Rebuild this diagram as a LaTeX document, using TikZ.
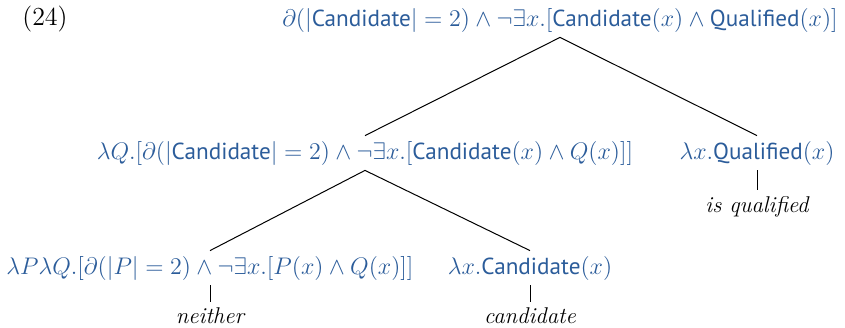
\documentclass[tikz,border=0pt]{standalone}
\usepackage{fontspec}
\usepackage{amsmath}
\newfontfamily\sansf{PT Sans}
\definecolor{semblue}{RGB}{43,92,154}
\newcommand{\sn}[1]{\text{\sansf #1}}
\begin{document}
\begin{tikzpicture}[x=0.5pt,y=-0.5pt,
  sem/.style={text=semblue,inner sep=2.5pt,font=\fontsize{11.6}{13}\selectfont},
  wd/.style={inner sep=0pt,font=\fontsize{11.4}{13}\selectfont\itshape},
  br/.style={line width=0.5pt}]
\useasboundingbox (0,0) rectangle (845,327);
\node[font=\fontsize{13}{15}\selectfont] (ex) at (45,19) {(24)};
\node[sem] (root) at (560,20) {$\partial(|\sn{Candidate}|=2)\wedge\neg\exists x.[\sn{Candidate}(x)\wedge\sn{Qualified}(x)]$};
\node[sem] (L) at (365,153) {$\lambda Q.[\partial(|\sn{Candidate}|=2)\wedge\neg\exists x.[\sn{Candidate}(x)\wedge Q(x)]]$};
\node[sem] (R) at (757,153) {$\lambda x.\sn{Qualified}(x)$};
\node[sem] (LL) at (210,268) {$\lambda P\lambda Q.[\partial(|P|=2)\wedge\neg\exists x.[P(x)\wedge Q(x)]]$};
\node[sem] (LR) at (530,268) {$\lambda x.\sn{Candidate}(x)$};
\node[wd] (wR) at (757,207) {is qualified};
\node[wd] (wLL) at (210,316) {neither};
\node[wd] (wLR) at (530,316) {candidate};
\draw[br] (root.south) -- (L.north);
\draw[br] (root.south) -- (R.north);
\draw[br] (L.south) -- (LL.north);
\draw[br] (L.south) -- (LR.north);
\draw[br] (R.south) -- ([yshift=3pt]wR.north);
\draw[br] (LL.south) -- ([yshift=3pt]wLL.north);
\draw[br] (LR.south) -- ([yshift=3pt]wLR.north);
\end{tikzpicture}
\end{document}
